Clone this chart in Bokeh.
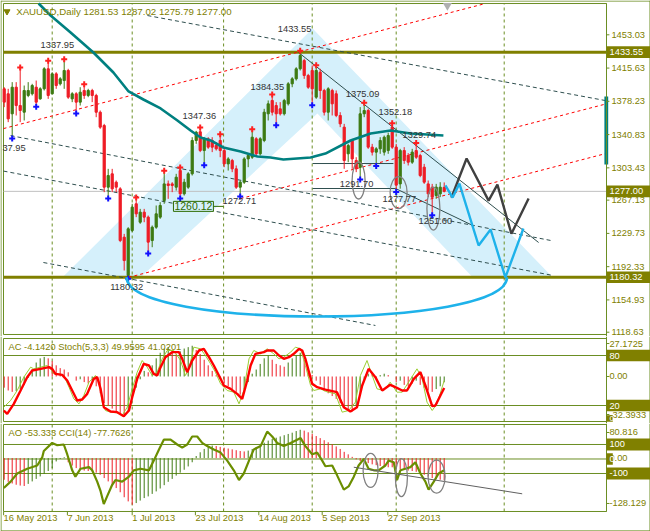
from bokeh.plotting import figure
from bokeh.layouts import column
from bokeh.models import Range1d, Label
from bokeh.embed import file_html
from bokeh.resources import INLINE
from bokeh.core.properties import value

# ---------------------------------------------------------------- data
title_text = "XAUUSD,Daily  1281.53 1287.02 1275.79 1277.00"

opens = [1392.3, 1386.7, 1364.2, 1394.1, 1373.5, 1366.0, 1384.8, 1386.7, 1394.1, 1381.0,
         1392.3, 1414.8, 1386.7, 1409.1, 1397.9, 1401.6, 1412.9, 1381.0, 1386.7, 1377.3,
         1390.4, 1384.8, 1390.4, 1384.8, 1366.0, 1351.0, 1281.7, 1296.7, 1287.3, 1279.8,
         1225.5, 1182.4, 1233.0, 1263.0, 1242.3, 1253.6, 1248.0, 1221.7, 1236.7, 1248.0,
         1266.7, 1285.4, 1285.4, 1281.7, 1300.4, 1274.2, 1281.7, 1296.7, 1334.2, 1344.0,
         1322.9, 1336.1, 1334.2, 1328.6, 1334.2, 1322.9, 1307.9, 1311.7, 1302.3, 1281.7,
         1287.3, 1313.5, 1315.4, 1336.1, 1319.2, 1334.2, 1364.2, 1379.2, 1373.5, 1369.8,
         1364.2, 1375.4, 1397.9, 1403.5, 1414.8, 1424.1, 1407.3, 1412.9, 1382.9, 1411.0,
         1390.4, 1366.0, 1390.4, 1386.7, 1362.3, 1349.2, 1319.2, 1334.2, 1311.7, 1304.0,
         1364.2, 1367.9, 1326.7, 1321.1, 1324.8, 1321.1, 1322.9, 1349.2, 1326.7, 1285.4,
         1322.9, 1317.3, 1309.8, 1322.9, 1317.3, 1304.2, 1285.4, 1281.7, 1272.3, 1274.2,
         1281.53]
highs = [1394.1, 1392.3, 1399.8, 1399.8, 1414.8, 1396.0, 1399.8, 1397.9, 1401.6, 1394.1,
         1416.6, 1422.3, 1411.0, 1411.0, 1405.4, 1424.1, 1414.8, 1388.5, 1388.5, 1394.1,
         1396.0, 1392.3, 1392.3, 1386.7, 1367.9, 1352.9, 1302.3, 1302.3, 1289.2, 1281.7,
         1229.2, 1236.7, 1263.0, 1268.6, 1257.3, 1257.3, 1249.8, 1238.6, 1261.1, 1264.8,
         1298.6, 1289.2, 1287.3, 1296.7, 1302.3, 1291.1, 1298.6, 1337.9, 1345.0, 1347.36,
         1337.9, 1337.9, 1337.9, 1332.3, 1339.8, 1326.7, 1315.4, 1313.5, 1306.1, 1289.2,
         1315.4, 1319.2, 1345.4, 1337.9, 1337.9, 1369.8, 1379.2, 1384.35, 1377.3, 1377.3,
         1381.0, 1399.8, 1405.4, 1416.6, 1433.55, 1426.0, 1409.1, 1418.5, 1417.4, 1414.8,
         1392.3, 1394.1, 1392.3, 1390.4, 1366.0, 1352.9, 1330.4, 1336.0, 1315.4, 1371.7,
         1375.09, 1369.8, 1330.4, 1326.7, 1337.9, 1339.8, 1343.0, 1352.18, 1330.4, 1324.8,
         1326.7, 1320.0, 1324.8, 1329.74, 1319.2, 1307.9, 1289.2, 1285.4, 1285.4, 1287.3,
         1287.02]
lows = [1371.7, 1354.8, 1337.95, 1362.3, 1354.8, 1356.7, 1382.9, 1384.8, 1373.5, 1380.0,
        1390.4, 1381.0, 1386.0, 1392.3, 1396.0, 1392.3, 1381.0, 1377.3, 1366.0, 1373.5,
        1381.0, 1382.9, 1377.3, 1360.4, 1347.3, 1276.1, 1270.5, 1276.1, 1276.1, 1219.9,
        1188.0, 1180.32, 1231.1, 1248.0, 1240.5, 1242.3, 1208.6, 1214.2, 1234.9, 1246.1,
        1263.0, 1268.6, 1276.1, 1277.9, 1270.5, 1272.3, 1279.8, 1294.8, 1330.4, 1321.1,
        1307.9, 1324.8, 1321.1, 1322.9, 1315.4, 1304.2, 1300.4, 1298.6, 1279.8, 1272.71,
        1285.4, 1304.2, 1313.5, 1317.3, 1317.3, 1332.3, 1356.7, 1362.3, 1352.9, 1362.3,
        1362.3, 1373.5, 1394.1, 1401.6, 1412.9, 1403.5, 1392.3, 1375.4, 1381.0, 1381.0,
        1362.3, 1356.7, 1362.3, 1360.4, 1349.2, 1302.3, 1309.8, 1302.3, 1298.6, 1291.70,
        1360.4, 1324.8, 1317.3, 1306.9, 1319.2, 1317.3, 1319.2, 1324.8, 1277.77, 1280.0,
        1307.9, 1306.1, 1307.9, 1313.5, 1292.9, 1285.4, 1270.5, 1251.60, 1268.6, 1270.5,
        1275.79]
closes = [1377.3, 1358.5, 1394.1, 1373.5, 1367.9, 1390.4, 1390.4, 1396.0, 1377.3, 1392.3,
          1414.8, 1384.8, 1409.1, 1396.0, 1403.5, 1412.9, 1382.9, 1386.7, 1377.3, 1388.5,
          1384.8, 1390.4, 1384.8, 1366.0, 1349.2, 1281.7, 1294.8, 1279.8, 1281.7, 1221.7,
          1199.2, 1234.9, 1259.2, 1251.7, 1253.6, 1248.0, 1219.9, 1236.7, 1251.7, 1261.1,
          1285.4, 1283.6, 1283.6, 1292.9, 1274.2, 1287.3, 1296.7, 1334.2, 1343.5, 1322.9,
          1336.1, 1326.7, 1326.7, 1324.8, 1322.9, 1307.9, 1313.5, 1302.3, 1281.7, 1287.3,
          1313.5, 1317.3, 1337.9, 1319.2, 1336.1, 1366.0, 1375.4, 1366.0, 1364.2, 1364.2,
          1379.2, 1397.9, 1403.5, 1414.8, 1429.8, 1407.3, 1394.1, 1392.3, 1412.9, 1390.4,
          1366.0, 1392.3, 1375.4, 1362.3, 1352.9, 1311.7, 1328.5, 1313.5, 1302.3, 1364.2,
          1367.9, 1326.7, 1321.1, 1324.8, 1334.2, 1337.9, 1339.8, 1326.7, 1284.0, 1322.9,
          1311.7, 1309.8, 1321.1, 1315.4, 1294.8, 1287.3, 1274.2, 1270.5, 1281.7, 1281.7,
          1277.00]

fractal_high_bars = [4, 11, 15, 20, 33, 40, 44, 49, 54, 62, 67, 74, 78, 90, 97, 103]
fractal_low_bars = [2, 8, 18, 26, 31, 36, 44, 50, 59, 68, 77, 89, 93, 98, 107]

# moving average: (bar, price)
ma_points = [(8.6, 1488.2), (11.6, 1474.7), (16.6, 1455.6), (22.3, 1433.1), (27.3, 1410.6),
             (31.1, 1389.3), (34.8, 1380.3), (39.1, 1370.2), (43.3, 1356.7), (46.6, 1345.4),
             (49.1, 1337.5), (51.6, 1334.2), (54.8, 1326.3), (59.1, 1321.8), (63.3, 1316.2),
             (66.6, 1315.0), (69.8, 1312.8), (76.6, 1315.0), (80.3, 1319.5), (86.6, 1334.2),
             (91.6, 1342.0), (96.6, 1345.4), (101.6, 1342.0), (109.8, 1339.8)]

price_ticks = [1453.03, 1415.63, 1378.23, 1340.83, 1303.43, 1267.13, 1229.73, 1192.33, 1154.93, 1118.63]
level_high = 1433.55
level_low = 1180.32
last_price = 1277.00
ma_bar_marker = (1307.2, 1383.6)

month_start_bars = [12, 32, 54.85, 77, 98, 125]
date_tick_bars = [-0.15, 15.8, 32, 47.8, 63.65, 79.5, 95.9]
date_labels = ["16 May 2013", "7 Jun 2013", "1 Jul 2013", "23 Jul 2013", "14 Aug 2013", "5 Sep 2013", "27 Sep 2013"]

# zigzag price labels: (bar, price, text)
swing_labels = [(13.3, 1442.1, "1337.95"), (72.6, 1460.1, "1433.55"),
                (65.8, 1394.9, "1384.35"), (48.8, 1361.2, "1347.36"), (89.6, 1387.0, "1375.09"),
                (97.8, 1365.7, "1352.18"), (103.8, 1340.8, "1329.74"), (88.1, 1285.6, "1291.70"),
                (98.8, 1268.7, "1277.77"), (107.8, 1244.0, "1251.60"), (58.8, 1265.6, "1272.71"),
                (30.6, 1169.0, "1180.32")]
edge_label = (-0.45, 1326.3, "37.95")
price_label_box = (52.3, 1260.12, "1260.12", 54.8)

# drawn objects (bar, price anchors)
band_bars = [14.6, 77.1, 137.1, 117.1, 78.3, 34.1]
band_prices = [1180.3, 1460.1, 1180.3, 1180.3, 1364.5, 1180.3]
red_channel = [((-0.175, 1347.6), (120.3, 1488.2)), ((31.1, 1180.3), (150.3, 1319.4)),
               ((59.1, 1268.9), (150.3, 1375.1))]
dark_fan = [((35.8, 1474.7), (150.3, 1379.1)), ((1.6, 1339.7), (136.6, 1221.8)),
            ((-0.175, 1299.8), (137.1, 1182.5)), ((9.8, 1197.0), (92.8, 1126.2))]
thin_lines = [((73.6, 1433.1), (133.6, 1219.5)), ((77.1, 1308.3), (97.3, 1308.3)),
              ((77.1, 1280.2), (97.8, 1280.2)), ((97.8, 1280.3), (117.1, 1238.7))]
bowl = ((30.6, 1180.32), (78.1, 1136.3), (125.7, 1180.32))
path_dark = [(111.8, 1270.0), (115.6, 1313.9), (121.1, 1266.6), (123.3, 1284.6), (126.8, 1229.3), (131.1, 1268.9)]
path_blue = [(110.3, 1283.6), (112.1, 1270.0), (113.8, 1285.7), (118.6, 1216.1), (121.6, 1234.1), (125.3, 1180.3), (129.8, 1235.2)]
price_ellipses = [(88.6, 1289.2, 13, 37), (98.6, 1275.6, 17, 32), (107.3, 1257.6, 13, 43)]

# Accelerator oscillator, one value per bar
ac_values = [-8, -10, -11, -10.5, -9, -6, -1, 5, 10, 13, 14, 13, 11, 8, 6, 5, 3, 0, -3, -2,
             -4, -5, -3, -7, -12, -19, -21, -23, -25, -27, -29, -25, -16, -8, -2, 4, 3, 8, 13, 17,
             20, 21, 19, 16, 18, 20, 21, 22, 19, 16, 12, 8, 4, 1, -2, -5, -7, -9, -11, -13,
             -9, -4, 2, 5, 9, 13, 15, 12, 9, 8, 7, 10, 13, 15, 17, 12, 6, 1, -3, -6,
             -10, -12, -14, -16, -19, -22, -24, -25, -21, -12, -3, 2, 1, -1, 1, 2, 1, 0, -4, -3,
             -6, -7, -5, -3, -6, -8, -10, -11, -9, -7, -4.142]
stoch_signal = [(-0.1, 14), (0.75, 10), (2.4, 22), (4.1, 38), (5.75, 54), (7, 62), (9.1, 64), (11.2, 66),
                (12, 64), (12.8, 58), (14.5, 56.8), (15.75, 50), (17, 38), (18.25, 26), (19.5, 27.2),
                (20.75, 34), (22.4, 52), (23.25, 54), (24.1, 40), (24.9, 18), (26.6, 12.8), (28.25, 12),
                (29.9, 7.2), (31.2, 14), (32, 30), (33.25, 52), (34.9, 70), (36.2, 68), (37.4, 58),
                (38.25, 56), (39.1, 66), (40.3, 78), (42, 84), (43.7, 84), (44.5, 76), (45.75, 60),
                (47, 74), (48.7, 86), (49.9, 88), (51.2, 78), (52.4, 68), (54.1, 52), (54.9, 44),
                (56.6, 40), (58.25, 34), (59.5, 28), (60.75, 50), (61.6, 68), (62.8, 82), (64.9, 84),
                (65.75, 86), (67.4, 86), (68.7, 80), (69.9, 76), (71.2, 78), (72.4, 82), (73.7, 88),
                (74.5, 86), (75.3, 76), (76.2, 60), (77, 46), (78.25, 42), (80.3, 39), (83.2, 36),
                (84.9, 18), (86.55, 12.8), (88.2, 18), (89.5, 44), (91.1, 64), (92.8, 54), (94.5, 38),
                (96.5, 44.8), (97.8, 42), (99.5, 38), (100.7, 38), (102.4, 52), (104.05, 60),
                (105.3, 44), (107, 19.2), (107.8, 20), (109.05, 32), (110, 41.02)]
stoch_main = [(-0.1, 18), (1.6, 26), (3.25, 38), (4.9, 54), (6.6, 66), (7.4, 64), (9.1, 66), (10.75, 68),
              (11.6, 64), (12.4, 58), (13.7, 58), (14.9, 56), (16.2, 42), (17.4, 28), (18.7, 22),
              (19.9, 32), (21.2, 48), (22.8, 56), (23.7, 48), (24.5, 24), (25.3, 14), (26.6, 12),
              (28.25, 11.2), (29.5, 8), (30.75, 18), (32, 40), (33.25, 60), (34.5, 74), (35.75, 66),
              (37, 56), (38.25, 60), (39.5, 76), (40.75, 86), (42.4, 86), (44.1, 74), (45.3, 56),
              (46.2, 64), (47.4, 90), (49.1, 88), (50.3, 80), (51.6, 70), (52.8, 60), (54.1, 46),
              (55.75, 38), (57.4, 36), (58.7, 22), (59.9, 38), (61.2, 76), (62.4, 86), (64.1, 82),
              (65.75, 88), (67.4, 82), (68.7, 76), (69.9, 78), (71.6, 84), (72.8, 90), (74.1, 88),
              (75.3, 68), (76.6, 44), (77.4, 38), (79.1, 40), (80.3, 37), (82.8, 34), (84.5, 12),
              (86.1, 14), (87.8, 24), (89.05, 56), (90.7, 74), (92, 56), (93.2, 40), (94.9, 38),
              (96.5, 48), (98.2, 36), (99.5, 36), (101.1, 48), (103.2, 64), (104.5, 52), (105.7, 24),
              (107, 14), (108.2, 22), (110, 49.96)]
stoch_levels = [80, 20]
ac_tick_pos = [23.6, 0, -27.2]
ac_tick_text = ["27.1725", "0.00", "-32.3933"]

# Awesome oscillator, one value per bar
ao_values = [-52, -57, -61, -64, -66, -67, -62, -56, -50, -44, -38, -31, -24, -8, -2, 2, -10, -18, -24, -28,
             -30, -31, -32, -35, -40, -48, -56, -64, -72, -82, -94, -104, -112, -108, -102, -96, -92, -86, -80, -73,
             -65, -57, -50, -42, -35, -28, -20, -10, 5, 14, 22, 27, 30, 29, 27, 25, 23, 21, 19, 17,
             16, 18, 22, 26, 31, 37, 42, 46, 49, 52, 55, 58, 61, 65, 68, 66, 62, 58, 53, 48,
             43, 38, 33, 28, 22, 15, 9, 3, -3, -7, -9, -12, -15, -17, -19, -21, -22, -22, -25, -27,
             -28, -30, -31, -33, -36, -40, -44, -48, -50, -52, -53.333]
cci_points = [(-0.1, -200), (1.6, -156), (3.25, -100), (5.75, -67), (8.25, -45), (9.5, 11), (9.9, 55),
              (12, 111), (13.25, 95), (14.9, 100), (15.75, 33), (17, -78), (17.8, -122), (19.1, -67),
              (21.2, -56), (22, -78), (23.25, -156), (24.1, -222), (24.9, -311), (25.75, -256),
              (27, -178), (27.8, -145), (29.5, -156), (31.2, -122), (32.4, -78), (34.1, -67),
              (36.2, -78), (37.4, -11), (38.7, 66), (39.9, 133), (41.6, 133), (43.25, 100), (44.5, 78),
              (45.75, 100), (47, 155), (48.25, 155), (49.5, 111), (50.75, 89), (52.4, 66), (54.1, 44),
              (55.75, -11), (57.4, -78), (58.7, -145), (59.9, -100), (61.2, -11), (62.4, 66), (64.1, 89),
              (65.75, 189), (67, 155), (68.25, 111), (69.9, 89), (71.6, 111), (73.25, 133), (74.1, 144),
              (75.3, 89), (77, 33), (78.25, 44), (79.5, -11), (80.3, -50), (82, -45), (83.2, -111),
              (84.9, -211), (86.1, -189), (87.4, -122), (88.6, -45), (89.9, 0), (91.1, -67), (92.4, -78),
              (93.6, -78), (95.3, -45), (96.1, -11), (97.4, -22), (98.2, -145), (99.05, -78),
              (100.3, -67), (101.55, -56), (102.8, -22), (104.05, -100), (105.3, -156), (106.1, -211),
              (107.4, -156), (108.6, -100), (110, -77.76)]
cci_levels = [100, 0, -100]
ao_tick_pos = [61.5, 0, -109]
ao_tick_text = ["80.816", "0.00", "-128.129"]
cci_trend = ((87.4, -56.6), (129.5, -240))
cci_ellipses = [(91.6, -79, 15, 34), (99.3, -128, 12, 38), (108.1, -121, 17, 33)]

# ---------------------------------------------------------------- style
FONT = "Liberation Sans"
FS = "9.3px"
FRAME = "#6b8e23"
OLIVE = "#808000"
TXT = "#808000"
BULL = "#3d7a12"
BEAR = "#ee1c25"
TEAL = "#008080"
BAND = "#d5f0fb"
SKY = "#1eb2ea"
DARK = "#2f4f4f"
LBL = "#333333"

# the bar-index scale spans the whole canvas; panels sit inside it
XR = Range1d(-0.925, 161.575)
PL, PR = -0.175, 150.575          # panel left / right edge (bar units)
OUTL, OUTR = -0.8, 161.45         # outer window border
TICK_END = 151.3
MAIN_TXT_X = 151.8
SUB_TXT_X = 151.3
BOX_TXT_X = 151.35
SMALL_BOX_R = 152.15


def make_fig(h, yr):
    p = figure(width=650, height=h, x_range=XR, y_range=yr, output_backend="svg",
               toolbar_location=None, x_axis_location=None, y_axis_location=None, min_border=0)
    p.outline_line_color = None
    p.background_fill_color = "white"
    p.border_fill_color = "white"
    p.grid.visible = False
    return p


def texts(p, xs, ys, ts, color=TXT, align="left", size=FS, rname="default"):
    p.text(x=xs, y=ys, text=ts, text_font=value(FONT), text_font_size=value(size), text_color=color,
           text_align=align, text_baseline="middle", y_range_name=rname)


def hlines(p, ys, color=FRAME, width=1, rname="default"):
    n = len(ys)
    p.segment(x0=[PL] * n, y0=ys, x1=[PR] * n, y1=ys, line_color=color, line_width=width, y_range_name=rname)


def frame_and_border(p, yr, top, bottom, outer_top=None, outer_bottom=None):
    p.quad(left=[PL], right=[PR], bottom=[bottom], top=[top], fill_color=None, line_color=FRAME, line_width=1)
    n = len(month_start_bars)
    p.segment(x0=month_start_bars, y0=[bottom] * n, x1=month_start_bars, y1=[top] * n,
              line_color=FRAME, line_width=1, line_dash="3 3")
    p.segment(x0=[OUTL, OUTR], y0=[yr.start] * 2, x1=[OUTL, OUTR], y1=[yr.end] * 2, line_color=FRAME, line_width=1)
    for y in (outer_top, outer_bottom):
        if y is not None:
            p.segment(x0=[OUTL], y0=[y], x1=[OUTR], y1=[y], line_color=FRAME, line_width=1)


def right_scale(p, ys, labels, x, rname="default"):
    n = len(ys)
    p.segment(x0=[PR] * n, y0=ys, x1=[TICK_END] * n, y1=ys, line_color=FRAME, line_width=1, y_range_name=rname)
    texts(p, [x] * n, ys, labels, rname=rname)


def boxed(p, ys, labels, half, right=OUTR, size=FS, tx=BOX_TXT_X):
    n = len(ys)
    p.quad(left=[PR] * n, right=[right] * n, bottom=[y - half for y in ys], top=[y + half for y in ys],
           fill_color=OLIVE, line_color=None)
    texts(p, [tx] * n, ys, labels, color="white", size=size)


# ---------------------------------------------------------------- main panel
yr1 = Range1d(1113.8, 1491.6)
p1 = make_fig(336, yr1)
P1_TOP, P1_BOT = 1488.2, 1116.05

p1.patch(band_bars, band_prices, fill_color=BAND, line_color=None)
frame_and_border(p1, yr1, P1_TOP, P1_BOT, outer_top=1491.0)
hlines(p1, [level_high, level_low], color=OLIVE, width=3)
hlines(p1, [last_price], color="#c0c0c0")

p1.multi_line([[a[0], b[0]] for a, b in red_channel], [[a[1], b[1]] for a, b in red_channel],
              line_color="#ff0000", line_width=1, line_dash="3 3")
p1.multi_line([[a[0], b[0]] for a, b in dark_fan], [[a[1], b[1]] for a, b in dark_fan],
              line_color=DARK, line_width=1, line_dash="4 3")
p1.multi_line([[a[0], b[0]] for a, b in thin_lines], [[a[1], b[1]] for a, b in thin_lines],
              line_color=DARK, line_width=1)

bars = list(range(len(opens)))
cols = [BULL if c >= o else BEAR for o, c in zip(opens, closes)]
p1.segment(x0=bars, y0=highs, x1=bars, y1=lows, line_color=cols, line_width=1)
p1.vbar(x=bars, top=[max(o, c) for o, c in zip(opens, closes)],
        bottom=[min(o, c) for o, c in zip(opens, closes)], width=0.55,
        fill_color=cols, line_color=cols, line_width=1)

p1.line([b for b, v in ma_points], [v for b, v in ma_points], line_color=TEAL, line_width=2.6)
p1.quad(left=[150.05], right=[151.0], bottom=[ma_bar_marker[0]], top=[ma_bar_marker[1]],
        fill_color=TEAL, line_color=None)

p1.scatter(fractal_high_bars, [highs[b] + 1.5 for b in fractal_high_bars],
           marker="cross", size=6, line_color="#ff2020", line_width=2)
p1.scatter(fractal_low_bars, [lows[b] - 1.5 for b in fractal_low_bars],
           marker="cross", size=6, line_color="#1010ff", line_width=2)

(bx0, by0), (bxm, bym), (bx1, by1) = bowl
cy = by0 - (by0 - bym) * 4.0 / 3.0
p1.bezier(x0=[bx0], y0=[by0], x1=[bx1], y1=[by1], cx0=[bx0], cy0=[cy], cx1=[bx1], cy1=[cy],
          line_color=SKY, line_width=2.6)
p1.line([b for b, v in path_dark], [v for b, v in path_dark], line_color="#404040", line_width=2.4)
p1.line([b for b, v in path_blue], [v for b, v in path_blue], line_color=SKY, line_width=2.4)

p1.ellipse(x=[e[0] for e in price_ellipses], y=[e[1] for e in price_ellipses],
           width=[e[2] for e in price_ellipses], height=[e[3] for e in price_ellipses],
           width_units="screen", height_units="screen", fill_alpha=0, line_color="#808080", line_width=1.3)

texts(p1, [s[0] for s in swing_labels], [s[1] for s in swing_labels], [s[2] for s in swing_labels],
      color=LBL, align="center")
texts(p1, [edge_label[0]], [edge_label[1]], [edge_label[2]], color=LBL)

lx, ly, ltxt, lend = price_label_box
p1.segment(x0=[lx], y0=[ly], x1=[lend], y1=[ly], line_color="#2e6b00", line_width=1)
p1.add_layout(Label(x=lx, y=ly, text=ltxt, text_align="right", text_baseline="middle",
                    text_color="#2e6b00", text_font=FONT, text_font_size="10.5px",
                    border_line_color="#2e6b00", background_fill_color=BAND, padding=1))

p1.scatter([0.7], [1479.2], marker="inverted_triangle", size=6, fill_color=OLIVE, line_color=OLIVE)
texts(p1, [3.0], [1479.2], [title_text], size="9.7px")
p1.scatter([110.8], [1486.0], marker="inverted_triangle", size=9, fill_color="#b0b0b0", line_color=None)

p1.segment(x0=[PR], y0=[yr1.start], x1=[PR], y1=[P1_TOP], line_color=FRAME, line_width=1)
boxed(p1, [level_high, last_price, level_low], ["%.2f" % level_high, "%.2f" % last_price, "%.2f" % level_low], 6.5)
right_scale(p1, price_ticks, ["%.2f" % t for t in price_ticks], MAIN_TXT_X)

# ---------------------------------------------------------------- AC + Stochastic panel
yr2 = Range1d(-1.6, 102.8)
p2 = make_fig(87, yr2)
p2.extra_y_ranges = {"ac": Range1d(-33.63, 28.62)}
frame_and_border(p2, yr2, 100.4, 0.8)
p2.segment(x0=[PR], y0=[yr2.start], x1=[PR], y1=[yr2.end], line_color=FRAME, line_width=1)
hlines(p2, stoch_levels)
ac_cols = [BEAR] + [BULL if ac_values[i] > ac_values[i - 1] else BEAR for i in range(1, len(ac_values))]
p2.segment(x0=bars, y0=[0] * len(bars), x1=bars, y1=ac_values, y_range_name="ac",
           line_color=ac_cols, line_width=1)
p2.line([b for b, v in stoch_main], [v for b, v in stoch_main], line_color="#9acd32", line_width=1)
p2.line([b for b, v in stoch_signal], [v for b, v in stoch_signal], line_color="#ff0000", line_width=2.4)
texts(p2, [1.1], [90.8], ["AC -4.1420  Stoch(5,3,3) 49.9595 41.0201"])
boxed(p2, stoch_levels, ["80", "20"], 7.0, tx=SUB_TXT_X)
right_scale(p2, ac_tick_pos, ac_tick_text, SUB_TXT_X, rname="ac")
boxed(p2, [4.4], ["0"], 4.0, right=SMALL_BOX_R, size="8px", tx=SUB_TXT_X)

# ---------------------------------------------------------------- AO + CCI panel
yr3 = Range1d(-500, 244.8)
p3 = make_fig(108, yr3)
p3.extra_y_ranges = {"ao": Range1d(-176.3, 83.1)}
frame_and_border(p3, yr3, 237.9, -362, outer_bottom=-496)
p3.segment(x0=[PR], y0=[-362], x1=[PR], y1=[yr3.end], line_color=FRAME, line_width=1)
hlines(p3, cci_levels)
ao_cols = [BEAR] + [BULL if ao_values[i] > ao_values[i - 1] else BEAR for i in range(1, len(ao_values))]
p3.segment(x0=bars, y0=[0] * len(bars), x1=bars, y1=ao_values, y_range_name="ao",
           line_color=ao_cols, line_width=1)
p3.line([b for b, v in cci_points], [v for b, v in cci_points], line_color="#6b8e00", line_width=2.2)
p3.line([cci_trend[0][0], cci_trend[1][0]], [cci_trend[0][1], cci_trend[1][1]], line_color="#606060", line_width=1)
p3.ellipse(x=[e[0] for e in cci_ellipses], y=[e[1] for e in cci_ellipses],
           width=[e[2] for e in cci_ellipses], height=[e[3] for e in cci_ellipses],
           width_units="screen", height_units="screen", fill_alpha=0, line_color="#808080", line_width=1.3)
texts(p3, [1.1], [176], ["AO -53.333  CCI(14) -77.7626"])
boxed(p3, [100, -100], ["100", "-100"], 41, tx=SUB_TXT_X)
right_scale(p3, ao_tick_pos, ao_tick_text, SUB_TXT_X, rname="ao")
boxed(p3, [0], ["0"], 40, right=SMALL_BOX_R, tx=SUB_TXT_X)

nd = len(date_tick_bars)
p3.segment(x0=date_tick_bars, y0=[-362] * nd, x1=date_tick_bars, y1=[-388] * nd, line_color=FRAME, line_width=1)
texts(p3, date_tick_bars, [-410] * nd, date_labels)

layout = column(p1, p2, p3, spacing=0)
with open("out.html", "w") as f:
    f.write(file_html(layout, INLINE))
